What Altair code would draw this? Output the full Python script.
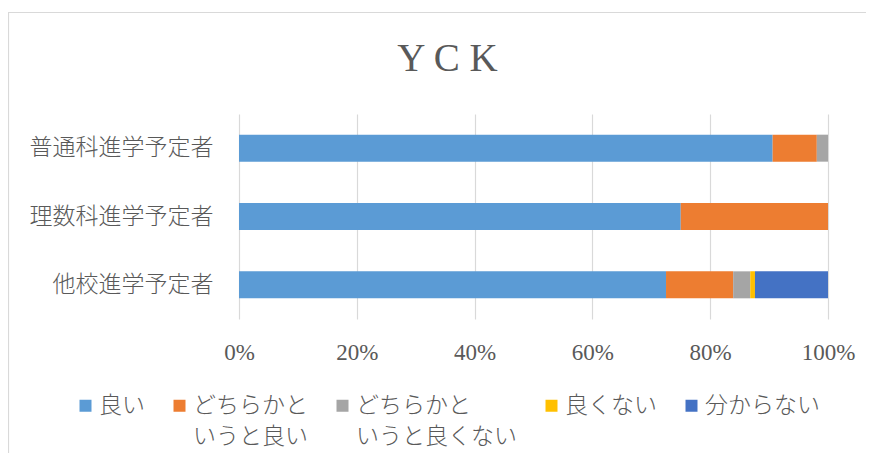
import altair as alt
import pandas as pd

# ---- data ----
groups = ["普通科進学予定者", "理数科進学予定者", "他校進学予定者"]
responses = ["良い", "どちらかと\nいうと良い", "どちらかと\nいうと良くない", "良くない", "分からない"]
good = [90.6, 75.0, 72.5]
rather_good = [7.5, 25.0, 11.4]
rather_bad = [1.9, 0.0, 2.9]
bad = [0.0, 0.0, 0.8]
unknown = [0.0, 0.0, 12.4]
x_ticks = [0, 0.2, 0.4, 0.6, 0.8, 1.0]
colors = ["#5B9BD5", "#ED7D31", "#A5A5A5", "#FFC000", "#4472C4"]
title_text = "Y C K"

series = [good, rather_good, rather_bad, bad, unknown]
rows = []
for ri, (resp, vals) in enumerate(zip(responses, series)):
    for g, v in zip(groups, vals):
        rows.append({"group": g, "response": resp, "order": ri, "value": v})
df = pd.DataFrame(rows)

TEXT = "#595959"
JP = "Noto Sans CJK JP"
SERIF = "Liberation Serif"

bars = alt.Chart(df).mark_bar().encode(
    y=alt.Y("group:N", sort=groups, title=None,
            scale=alt.Scale(paddingInner=0.605, paddingOuter=0.3025),
            axis=alt.Axis(labelFont=JP, labelFontSize=23, labelColor=TEXT, labelFontWeight=300,
                          ticks=False, domain=False, labelPadding=26, labelLimit=0)),
    x=alt.X("value:Q", stack="normalize", title=None,
            scale=alt.Scale(domain=[0, 1], nice=False),
            axis=alt.Axis(values=x_ticks, format=".0%", labelFont=SERIF, labelFontSize=23,
                          labelColor=TEXT, ticks=False, domain=False, labelPadding=22,
                          labelFlush=False,
                          grid=True, gridColor="#D9D9D9", gridWidth=1.2)),
    color=alt.Color("response:N", sort=responses,
                    scale=alt.Scale(domain=responses, range=colors),
                    legend=alt.Legend(title=None, orient="none", legendX=-165, legendY=280,
                                      direction="horizontal", columns=5, columnPadding=23,
                                      symbolType="square", symbolSize=144, symbolStrokeWidth=0,
                                      labelFont=JP, labelFontSize=23, labelColor=TEXT,
                                      labelFontWeight=300,
                                      labelOffset=2, labelLimit=0, padding=0,
                                      labelExpr="indexof(datum.label, '\\n') >= 0 ? split(datum.label, '\\n') : [datum.label, '']")),
    order=alt.Order("order:Q", sort="ascending"),
)

border = alt.Chart(pd.DataFrame({"a": [0]})).mark_rect(
    fillOpacity=0, stroke="#D9D9D9", strokeWidth=1.2
).encode(
    x=alt.value(-230.5), x2=alt.value(700), y=alt.value(-101.5), y2=alt.value(500)
)

title = alt.Chart(pd.DataFrame({"t": [title_text]})).mark_text(
    font=SERIF, fontSize=39, color=TEXT, align="center", baseline="alphabetic"
).encode(text="t:N", x=alt.value(208.5), y=alt.value(-43))

chart = alt.layer(border, title, bars).properties(
    width=589, height=205,
    autosize=alt.AutoSizeParams(type="none"),
    padding={"left": 231, "top": 106, "right": 38, "bottom": 134},
).configure(style={"guide-label": {"lineHeight": 31}}).configure_view(strokeWidth=0)

chart.save("out.html", embed_options={"renderer": "svg", "actions": False})
